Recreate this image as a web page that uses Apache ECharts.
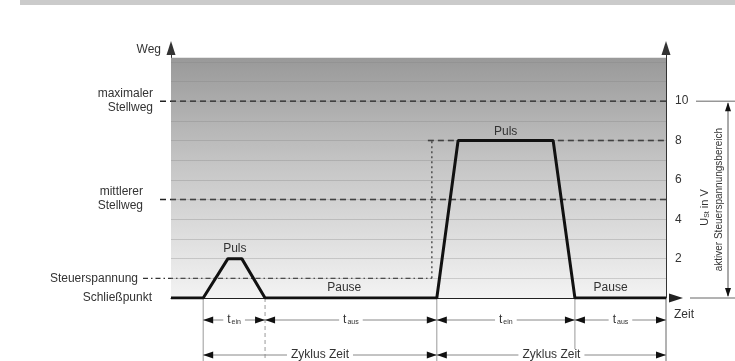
<!DOCTYPE html>
<html lang="de">
<head>
<meta charset="UTF-8">
<title>Steuerspannung und Stellweg</title>
<style>
  html, body { margin: 0; padding: 0; background: #fff; }
  #main { width: 735px; height: 361px; }
</style>
</head>
<body>
<div id="main"></div>
<script src="https://cdn.jsdelivr.net/npm/echarts@6/dist/echarts.min.js"></script>
<script>
// Signalverlauf: Zeit (beliebige Einheit), Weg / Steuerspannung in V
var signalZeit = [0, 6.5, 11.5, 14.3, 19, 53.7, 58, 77.2, 81.6, 100];
var signalWeg  = [0, 0, 2, 2, 0, 0, 8, 8, 0, 0];

// Hilfslinien im grauen Bereich
var bandStufen = [1, 2, 3, 4, 5, 6, 7, 8, 9, 10, 11, 12];
var grauOben = 12.2;

// Pegel
var maxStellweg = 10;
var mittlStellweg = 5;
var pulsPegel = 8;
var steuerPegel = 1;

// Schaltzeitpunkte und Phasen
var schaltZeit = [6.5, 19, 53.7, 81.6, 100];
var phasenName = ['ein', 'aus', 'ein', 'aus'];
var zyklusGrenzen = [6.5, 53.7, 100];
var yTicks = [2, 4, 6, 8, 10];

var schrift = "'Liberation Sans', Arial, sans-serif";
var chart = echarts.init(document.getElementById('main'));

var achsLinie = {
  show: true,
  lineStyle: { color: '#333', width: 1 },
  symbol: ['none', 'triangle'],
  symbolSize: [9, 14],
  symbolOffset: [0, 2]
};

chart.setOption({
  animation: false,
  grid: { left: 171, right: 69, top: 50, bottom: 63 },
  xAxis: {
    type: 'value', min: 0, max: 100,
    axisLine: { show: true, lineStyle: { color: '#222', width: 1 }, symbol: ['none', 'triangle'], symbolSize: [9, 14], symbolOffset: [0, 10] },
    axisTick: { show: false }, axisLabel: { show: false }, splitLine: { show: false }
  },
  yAxis: [
    {
      type: 'value', min: 0, max: 12.6,
      axisLine: achsLinie,
      axisTick: { show: false }, axisLabel: { show: false }, splitLine: { show: false }
    },
    {
      type: 'value', position: 'right', min: 0, max: 12.6, interval: 2,
      axisLine: achsLinie,
      axisTick: { show: false }, splitLine: { show: false },
      axisLabel: {
        margin: 9, color: '#333', fontSize: 12, fontFamily: schrift,
        formatter: function (v) { return yTicks.indexOf(v) >= 0 ? String(v) : ''; }
      }
    }
  ],
  series: [
    {
      type: 'line',
      z: 5,
      symbol: 'none',
      data: signalZeit.map(function (t, i) { return [t, signalWeg[i]]; }),
      lineStyle: { color: '#111', width: 3 },
      markArea: {
        silent: true,
        itemStyle: {
          color: new echarts.graphic.LinearGradient(0, 0, 0, 1, [
            { offset: 0, color: '#999999' },
            { offset: 0.45, color: '#c6c6c6' },
            { offset: 1, color: '#f3f3f3' }
          ])
        },
        data: [[{ xAxis: 0, yAxis: 0 }, { xAxis: 100, yAxis: grauOben }]]
      },
      markLine: {
        silent: true,
        symbol: ['none', 'none'],
        label: { show: false },
        lineStyle: { color: 'rgba(130,130,130,0.32)', width: 1, type: 'solid' },
        data: bandStufen.map(function (v) { return { yAxis: v }; })
      }
    }
  ]
});

function px(t, v) { return chart.convertToPixel({ xAxisIndex: 0, yAxisIndex: 0 }, [t, v]); }

var g = [];
function linie(x1, y1, x2, y2, farbe, breite, strich, z) {
  g.push({
    type: 'line', z: z || 4, silent: true,
    shape: { x1: x1, y1: y1, x2: x2, y2: y2 },
    style: { stroke: farbe, lineWidth: breite, lineDash: strich || null }
  });
}
function text(t, x, y, align, opt) {
  opt = opt || {};
  g.push({
    type: 'text', z: 7, silent: true,
    x: x, y: y, rotation: opt.rot || 0,
    style: {
      text: t, x: 0, y: 0,
      align: align, textAlign: align, verticalAlign: 'middle', textVerticalAlign: 'middle',
      fill: opt.farbe || '#333', font: (opt.size || 12) + 'px ' + schrift,
      backgroundColor: opt.bg || null, padding: opt.pad || 0,
      rich: opt.rich || null
    }
  });
}
function pfeil(xTip, y, dir) {
  g.push({
    type: 'polygon', z: 6, silent: true,
    shape: { points: [[xTip, y], [xTip - dir * 10, y - 3.5], [xTip - dir * 10, y + 3.5]] },
    style: { fill: '#111' }
  });
}
function pfeilV(x, yTip, dir) {
  g.push({
    type: 'polygon', z: 6, silent: true,
    shape: { points: [[x, yTip], [x - 3, yTip - dir * 9], [x + 3, yTip - dir * 9]] },
    style: { fill: '#111' }
  });
}

var p0 = px(0, 0);
var pEnd = px(100, 0);
var x0 = p0[0], yBase = p0[1], xEnd = pEnd[0];

// Top grey strip
g.push({ type: 'rect', z: 1, silent: true, shape: { x: 20, y: 0, width: 715, height: 5 }, style: { fill: '#cbcbcb' } });

// Dashed level lines
var yMax = px(0, maxStellweg)[1];
var yMit = px(0, mittlStellweg)[1];
var yPuls = px(0, pulsPegel)[1];
var ySt = px(0, steuerPegel)[1];
var xDot = px(52.7, 0)[0];
linie(x0 - 11, yMax, xEnd + 3, yMax, '#222', 1.5, [6, 4]);
linie(x0 - 11, yMit, xEnd, yMit, '#222', 1.5, [6, 4]);
linie(xDot - 4, yPuls, xEnd, yPuls, '#222', 1.5, [6, 4]);
linie(x0 - 28, ySt, xDot, ySt, '#333', 1.2, [5, 3, 1.5, 3]);
linie(xDot, ySt, xDot, yPuls, '#333', 1.2, [2, 3]);

// Left labels
text('Weg', x0 - 10, 50, 'right', { size: 12 });
text('maximaler', x0 - 18, yMax - 7, 'right', { size: 12 });
text('Stellweg', x0 - 18, yMax + 7, 'right', { size: 12 });
text('mittlerer', x0 - 28, yMit - 8, 'right', { size: 12 });
text('Stellweg', x0 - 28, yMit + 6, 'right', { size: 12 });
text('Steuerspannung', x0 - 33, ySt, 'right', { size: 12 });
text('Schließpunkt', x0 - 19, yBase, 'right', { size: 12 });
text('Zeit', xEnd + 8, yBase + 17, 'left', { size: 12 });

// Puls / Pause labels
text('Puls', px(12.9, 0)[0], px(0, 2.5)[1], 'center', { size: 12 });
text('Puls', px(67.6, 0)[0], px(0, 8.45)[1], 'center', { size: 12 });
text('Pause', px(35, 0)[0], px(0, 0.5)[1], 'center', { size: 12 });
text('Pause', px(88.8, 0)[0], px(0, 0.5)[1], 'center', { size: 12 });

// Vertical marker lines below time axis
schaltZeit.forEach(function (t, i) {
  var x = px(t, 0)[0];
  linie(x, yBase, x, 361, '#999', 1, i === 1 ? [4, 3] : null, 3);
});

// Dimension arrows
var yRow1 = yBase + 22, yRow2 = yBase + 57;
var richT = {
  t: { fontSize: 12, fill: '#333', color: '#333', fontFamily: schrift },
  s: { fontSize: 7, fill: '#333', color: '#333', fontFamily: schrift, padding: [5, 0, 0, 1] }
};
for (var i = 0; i < phasenName.length; i++) {
  var xa = px(schaltZeit[i], 0)[0], xb = px(schaltZeit[i + 1], 0)[0];
  linie(xa, yRow1, xb, yRow1, '#888', 1, null, 5);
  pfeil(xa, yRow1, -1);
  pfeil(xb, yRow1, 1);
  text('{t|t}{s|' + phasenName[i] + '}', (xa + xb) / 2, yRow1, 'center', { bg: '#fff', pad: [0, 4], rich: richT });
}
for (var j = 0; j < zyklusGrenzen.length - 1; j++) {
  var za = px(zyklusGrenzen[j], 0)[0], zb = px(zyklusGrenzen[j + 1], 0)[0];
  linie(za, yRow2, zb, yRow2, '#888', 1, null, 5);
  pfeil(za, yRow2, -1);
  pfeil(zb, yRow2, 1);
  text('Zyklus Zeit', (za + zb) / 2, yRow2, 'center', { bg: '#fff', pad: [0, 4], size: 12 });
}

// Right side: axis extension and bracket for active control range
linie(xEnd, yBase, xEnd, 361, '#999', 1, null, 3);
linie(xEnd + 30, yMax, 735, yMax, '#666', 1);
linie(xEnd + 24, yBase, 735, yBase, '#666', 1);
linie(xEnd + 62, yMax + 2, xEnd + 62, yBase - 2, '#555', 1);
pfeilV(xEnd + 62, yMax + 1, -1);
pfeilV(xEnd + 62, yBase - 1, 1);
text('{a|U}{b|St}{a| in V}', xEnd + 39, px(0, 4.6)[1], 'center', {
  rot: Math.PI / 2,
  rich: {
    a: { fontSize: 11, fill: '#333', color: '#333', fontFamily: schrift },
    b: { fontSize: 7, fill: '#333', color: '#333', fontFamily: schrift, padding: [5, 0, 0, 0] }
  }
});
text('aktiver Steuerspannungsbereich', xEnd + 53, (yMax + yBase) / 2, 'center', { rot: Math.PI / 2, size: 10 });

chart.setOption({ graphic: { elements: g } });
</script>
</body>
</html>
